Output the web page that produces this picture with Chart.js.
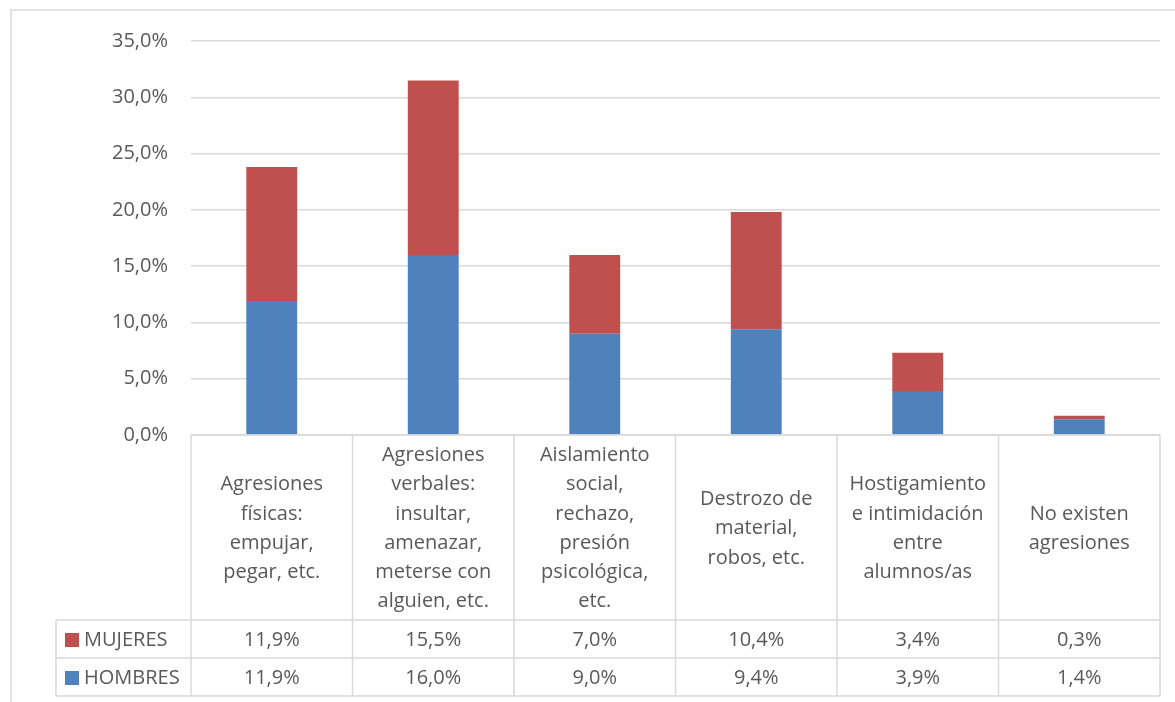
<!DOCTYPE html>
<html>
<head>
<meta charset="utf-8">
<script src="https://cdn.jsdelivr.net/npm/chart.js@4.4.0/dist/chart.umd.min.js"></script>
<style>
  body { margin: 0; background: #fff; overflow: hidden; }
  canvas { display: block; }
</style>
</head>
<body>
<canvas id="graph" width="1175" height="702"></canvas>
<script>
// data
const categories = [
  ['Agresiones', 'físicas:', 'empujar,', 'pegar, etc.'],
  ['Agresiones', 'verbales:', 'insultar,', 'amenazar,', 'meterse con', 'alguien, etc.'],
  ['Aislamiento', 'social,', 'rechazo,', 'presión', 'psicológica,', 'etc.'],
  ['Destrozo de', 'material,', 'robos, etc.'],
  ['Hostigamiento', 'e intimidación', 'entre', 'alumnos/as'],
  ['No existen', 'agresiones']
];
const hombres = [11.9, 16.0, 9.0, 9.4, 3.9, 1.4];
const mujeres = [11.9, 15.5, 7.0, 10.4, 3.4, 0.3];
const yTicks = [0, 5, 10, 15, 20, 25, 30, 35];

const FONT = '"Open Sans", sans-serif';
const FSIZE = 20;
const TEXT = '#595959';
const LINE = '#d9d9d9';

function pct(v) {
  return v.toFixed(1).replace('.', ',') + '%';
}

// draws the data table under the plot (header row + legend rows)
const tablePlugin = {
  id: 'dataTable',
  afterDraw(chart) {
    const ctx = chart.ctx;
    const area = chart.chartArea;
    const n = categories.length;
    const colW = (area.right - area.left) / n;
    const top = area.bottom;
    const row1 = 620, row2 = 658, bottom = 696;
    const legendLeft = 56;

    ctx.save();
    ctx.strokeStyle = LINE;
    ctx.lineWidth = 1.5;

    // outer chart frame
    ctx.strokeRect(11, 10, 1200, 720);

    ctx.beginPath();
    ctx.moveTo(area.left, top); ctx.lineTo(area.right, top);
    ctx.moveTo(legendLeft, row1); ctx.lineTo(area.right, row1);
    ctx.moveTo(legendLeft, row2); ctx.lineTo(area.right, row2);
    ctx.moveTo(legendLeft, bottom); ctx.lineTo(area.right, bottom);
    ctx.moveTo(legendLeft, row1); ctx.lineTo(legendLeft, bottom);
    for (let i = 0; i <= n; i++) {
      const x = area.left + i * colW;
      ctx.moveTo(x, top); ctx.lineTo(x, bottom);
    }
    ctx.stroke();

    ctx.fillStyle = TEXT;
    ctx.font = FSIZE + 'px ' + FONT;
    ctx.textAlign = 'center';
    ctx.textBaseline = 'middle';

    const lh = 29.3;
    const midHead = (top + row1) / 2 + 1;
    categories.forEach((lines, i) => {
      const cx = area.left + (i + 0.5) * colW;
      const y0 = midHead - (lines.length - 1) * lh / 2;
      lines.forEach((t, k) => ctx.fillText(t, cx, y0 + k * lh));
      ctx.fillText(pct(mujeres[i]), cx, (row1 + row2) / 2 + 1);
      ctx.fillText(pct(hombres[i]), cx, (row2 + bottom) / 2 + 1);
    });

    // legend keys
    const rows = [
      { label: 'MUJERES', color: chart.data.datasets[1].backgroundColor, y: (row1 + row2) / 2 + 1 },
      { label: 'HOMBRES', color: chart.data.datasets[0].backgroundColor, y: (row2 + bottom) / 2 + 1 }
    ];
    ctx.textAlign = 'left';
    rows.forEach(r => {
      ctx.fillStyle = r.color;
      ctx.fillRect(65, r.y - 7, 14, 14);
      ctx.fillStyle = TEXT;
      ctx.fillText(r.label, 84, r.y);
    });
    ctx.restore();
  }
};

const graph = document.getElementById('graph');
new Chart(graph, {
  type: 'bar',
  data: {
    labels: categories,
    datasets: [
      { label: 'HOMBRES', data: hombres, backgroundColor: '#4f81bd', barPercentage: 0.315, categoryPercentage: 1 },
      { label: 'MUJERES', data: mujeres, backgroundColor: '#c0504d', barPercentage: 0.315, categoryPercentage: 1 }
    ]
  },
  options: {
    responsive: false,
    animation: false,
    layout: { padding: { left: 0, top: 41, right: 15, bottom: 267 } },
    plugins: {
      legend: { display: false },
      tooltip: { enabled: false }
    },
    scales: {
      x: { stacked: true, display: false },
      y: {
        stacked: true,
        min: 0,
        max: 35,
        afterFit(scale) { scale.width = 191; },
        afterBuildTicks(scale) { scale.ticks = yTicks.map(v => ({ value: v })); },
        border: { display: false },
        grid: { color: LINE, lineWidth: 1.5, drawTicks: false },
        ticks: {
          padding: 23,
          color: TEXT,
          font: { family: FONT, size: FSIZE },
          callback: v => pct(v)
        }
      }
    }
  },
  plugins: [tablePlugin]
});
</script>
</body>
</html>
